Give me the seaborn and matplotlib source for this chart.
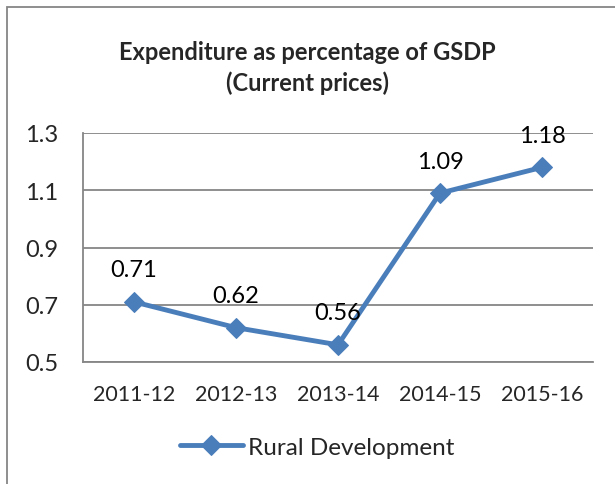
import numpy as np
import pandas as pd
import matplotlib
matplotlib.use("Agg")
import matplotlib.pyplot as plt
from matplotlib.patches import Rectangle
import seaborn as sns

years = ["2011-12", "2012-13", "2013-14", "2014-15", "2015-16"]
values = [0.71, 0.62, 0.56, 1.09, 1.18]
series_name = "Rural Development"

df = pd.DataFrame({"year": years, "value": values, "series": series_name})

sns.set_style("white")
plt.rcParams["font.family"] = ["Lato", "DejaVu Sans"]

blue = "#4a7ebb"
grey = "#868686"

fig = plt.figure(figsize=(6.15, 4.85), dpi=100)
ax = fig.add_axes([83 / 615, 1 - 363 / 485, 510 / 615, 229 / 485])

x = np.arange(len(years))
sns.lineplot(x=x, y=df["value"], ax=ax, color=blue, linewidth=3.5,
             marker="D", markersize=10.5, markeredgecolor=blue,
             label=series_name, legend=False)

for xi, v in zip(x, values):
    ax.annotate(f"{v:.2f}", (xi, v), xytext=(0, 23), textcoords="offset points",
                ha="center", va="center", fontsize=17, color="black")

ax.set_xlim(-0.5, len(years) - 0.5)
ax.set_ylim(0.5, 1.3)
ax.set_yticks([0.5, 0.7, 0.9, 1.1, 1.3])
ax.set_yticklabels(["0.5", "0.7", "0.9", "1.1", "1.3"], fontsize=17)
ax.set_xticks(x)
ax.set_xticklabels(years, fontsize=15.5)
ax.set_xticks(np.arange(-0.5, len(years)), minor=True)
ax.tick_params(axis="x", which="major", length=0, pad=16)
ax.tick_params(axis="x", which="minor", length=5, color=grey, width=1.3)
ax.tick_params(axis="y", length=5, color=grey, width=1.3, pad=13)
ax.set_xlabel("")
ax.set_ylabel("")
ax.grid(axis="y", color=grey, linewidth=1.3)
ax.set_axisbelow(True)
for side in ["top", "right"]:
    ax.spines[side].set_visible(False)
for side in ["left", "bottom"]:
    ax.spines[side].set_color(grey)
    ax.spines[side].set_linewidth(1.3)

fig.text(0.5, 1 - 68 / 485, "Expenditure as percentage of GSDP\n(Current prices)",
         ha="center", va="center", fontsize=17, fontweight="bold", linespacing=1.35)

handles, labels = ax.get_legend_handles_labels()
fig.legend(handles, labels, loc="center", bbox_to_anchor=(317 / 615, 1 - 448 / 485),
           frameon=False, fontsize=17.5, handlelength=2.6, handletextpad=0.2)

fig.patches.append(Rectangle((7 / 615, -0.1), 1.2, 1.1 - 8 / 485, transform=fig.transFigure,
                             fill=False, edgecolor=grey, linewidth=1.3))

fig.savefig("out.png", dpi=100)
